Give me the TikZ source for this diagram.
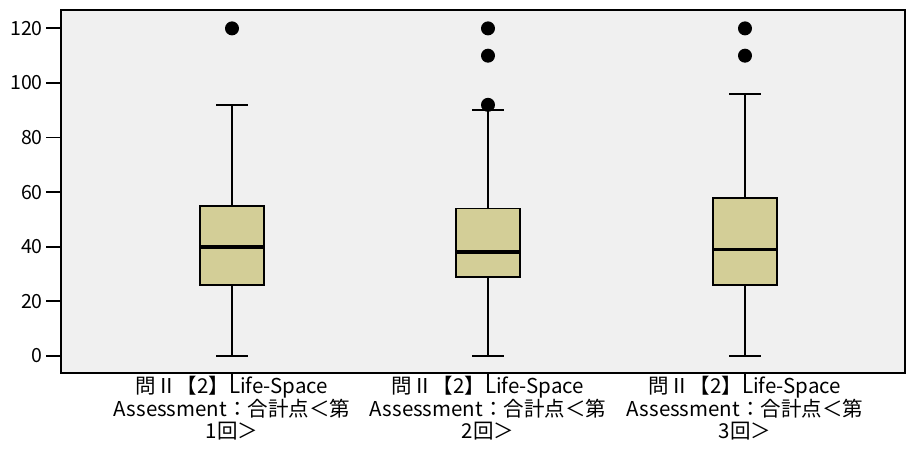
\documentclass[tikz,border=0pt]{standalone}
\usepackage{fontspec}
\setmainfont{Noto Sans CJK JP}
\definecolor{plotbg}{RGB}{240,240,240}
\definecolor{boxfill}{RGB}{211,206,151}
\tikzset{
  plotframe/.style={draw=black,line width=1.6pt,fill=plotbg},
  whisk/.style={line width=1.8pt},
  iqrbox/.style={draw=black,line width=1.8pt,fill=boxfill},
  medline/.style={line width=3.8pt},
  outlier/.style={circle,fill=black,inner sep=0pt,minimum size=14pt},
  ticklab/.style={anchor=east,inner sep=0pt,font=\fontsize{19.5}{22}\selectfont},
  catlab/.style={anchor=north,align=center,inner sep=0pt,font=\fontsize{20.5}{22}\selectfont},
}
\begin{document}
\begin{tikzpicture}[x=1pt,y=-1pt]
  \useasboundingbox (0,0) rectangle (906,462);
  \draw[plotframe] (61,10) rectangle (905,373);
  % data values, 0 at pixel row 356
  \begin{scope}[yshift=-356pt,y=2.73pt]
    \foreach \v in {0,20,...,120} {
      \draw[whisk] (46,\v) -- (61,\v);
      \node[ticklab] (yt\v) at (43,\v) {\v};
    }
    \foreach \i/\cx/\lo/\qa/\md/\qb/\hi in {1/232/0/26/40/55/92,2/488/0/29/38/54/90,3/745/0/26/39/58/96} {
      \coordinate (lo\i) at (\cx,\lo);
      \coordinate (hi\i) at (\cx,\hi);
      \coordinate (qa\i) at (\cx,\qa);
      \coordinate (qb\i) at (\cx,\qb);
      \draw[whisk] (lo\i) -- (qa\i);
      \draw[whisk] (qb\i) -- (hi\i);
      \draw[whisk] ([xshift=-16pt]lo\i) -- ([xshift=16pt]lo\i);
      \draw[whisk] ([xshift=-16pt]hi\i) -- ([xshift=16pt]hi\i);
      \draw[iqrbox] ({\cx-32},\qa) rectangle ({\cx+32},\qb);
      \draw[medline] ({\cx-32},\md) -- ({\cx+32},\md);
    }
    \foreach \i/\cx/\v in {1/232/120,2/488/92,2/488/110,2/488/120,3/745/110,3/745/120}
      \node[outlier] (out\i-\v) at (\cx,\v) {};
  \end{scope}
  \foreach \i/\cx in {1/232,2/488,3/745} {
    \coordinate (ct\i) at (\cx,373);
    \draw[whisk] (ct\i) -- ++(0,7);
    \node[catlab] (cat\i) at (\cx,376) {問Ⅱ【2】Life-Space\\Assessment：合計点＜第\\\i 回＞};
  }
\end{tikzpicture}
\end{document}
